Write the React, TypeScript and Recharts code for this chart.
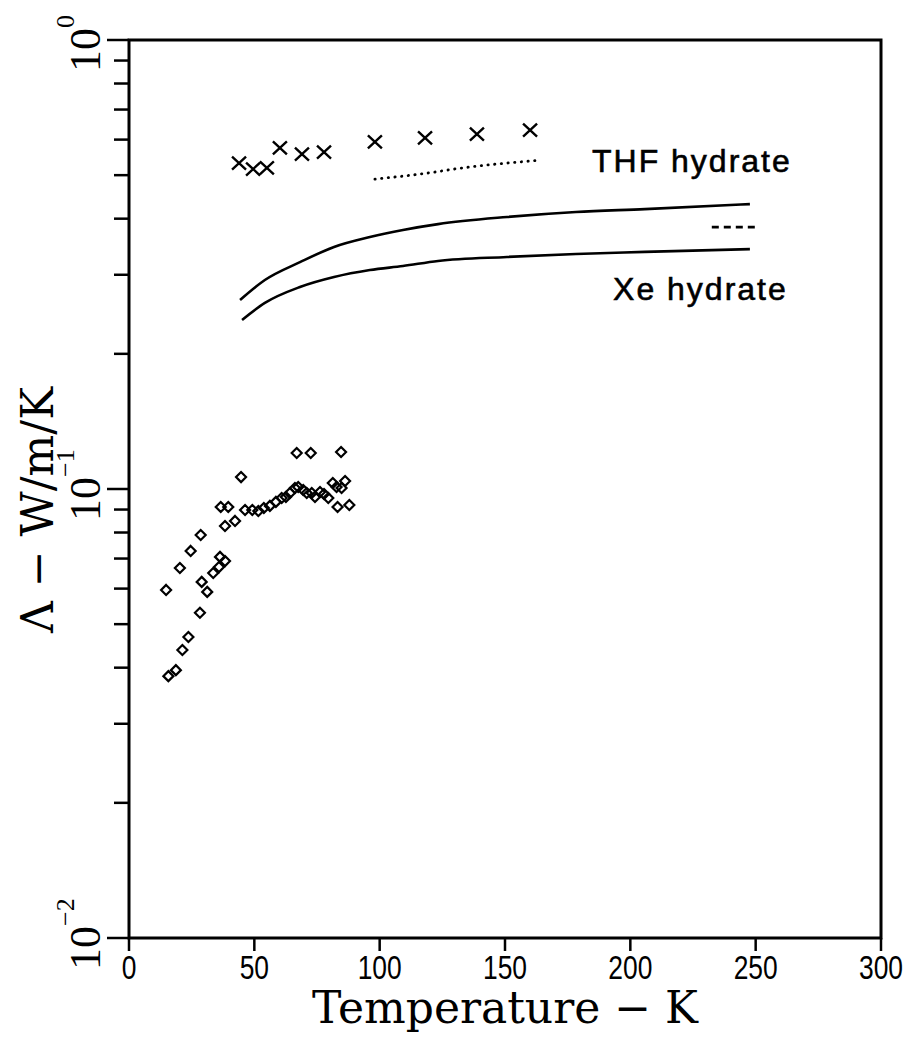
import {
  ComposedChart,
  XAxis,
  YAxis,
  Scatter,
  Line,
  ReferenceArea,
  ReferenceDot,
} from 'recharts';

// x axis: temperature (K)
const X_TICKS = [0, 50, 100, 150, 200, 250, 300];
// y axis: log decades with minor ticks
const Y_TICKS = [
  0.01, 0.02, 0.03, 0.04, 0.05, 0.06, 0.07, 0.08, 0.09,
  0.1, 0.2, 0.3, 0.4, 0.5, 0.6, 0.7, 0.8, 0.9, 1,
];

// diamonds (low temperature data)
const diamondT = [
  14.8, 15.7, 18.7, 20.3, 21.3, 23.7, 24.6, 28.3, 28.6, 29.0, 31.2, 33.6,
  35.9, 36.3, 38.3, 36.6, 39.6, 38.3, 42.3, 44.7, 46.3, 49.2, 51.6, 53.8,
  56.2, 58.6, 60.9, 62.6, 64.2, 66.2, 66.9, 67.5, 69.5, 70.9, 72.5, 72.9,
  74.2, 76.2, 77.8, 79.5, 81.3, 82.8, 83.2, 84.6, 84.8, 86.2, 87.9,
];
const diamondK = [
  0.0596, 0.0383, 0.0395, 0.0667, 0.0438, 0.0468, 0.0728, 0.053, 0.079,
  0.0621, 0.059, 0.065, 0.067, 0.0706, 0.0691, 0.0912, 0.0912, 0.0827,
  0.0849, 0.1063, 0.0898, 0.0898, 0.0893, 0.0907, 0.0917, 0.0936, 0.0955,
  0.096, 0.098, 0.1005, 0.1203, 0.101, 0.0995, 0.098, 0.1203, 0.098, 0.096,
  0.0985, 0.0975, 0.0955, 0.1031, 0.101, 0.0912, 0.1209, 0.1005, 0.1042,
  0.0921,
];

// crosses (THF hydrate)
const crossT = [43.9, 49.5, 55.0, 60.2, 69.0, 77.8, 98.1, 118.1, 138.8, 160.0];
const crossK = [0.532, 0.516, 0.519, 0.575, 0.557, 0.563, 0.593, 0.605, 0.617, 0.63];

// dotted THF line
const dotT = [98.1, 118.7, 132.0, 164.3];
const dotK = [0.49, 0.505, 0.518, 0.54];

// upper solid curve
const upperT = [44.3, 54.2, 68.2, 81.8, 96.1, 109.3, 123.3, 150.8, 178.3, 205.8, 247.7];
const upperK = [0.2636, 0.292, 0.32, 0.346, 0.364, 0.3775, 0.389, 0.4035, 0.414, 0.42, 0.431];

// lower solid curve (Xe hydrate)
const lowerT = [45.1, 54.2, 68.2, 81.8, 96.1, 109.3, 123.3, 150.8, 178.3, 205.8, 247.7];
const lowerK = [0.238, 0.2597, 0.2818, 0.2966, 0.3074, 0.3138, 0.322, 0.3287, 0.3338, 0.3373, 0.3422];

// short dashed segment
const dashT = [232.5, 250.9];
const dashK = [0.383, 0.383];

const zip = (t: number[], k: number[]) => t.map((v, i) => ({ t: v, k: k[i] }));

const serif = '"DejaVu Serif", "Liberation Serif", serif';

function XTick({ x, y, payload }: any) {
  return (
    <g>
      <line x1={x} x2={x} y1={y} y2={y + 13} stroke="#000" strokeWidth={2.5} />
      <text
        transform={`translate(${x},${y + 41}) scale(0.8,1)`}
        textAnchor="middle"
        fontFamily='"Liberation Sans", Arial, sans-serif'
        fontSize={33}
        fill="#000"
      >
        {payload.value}
      </text>
    </g>
  );
}

function YTick({ x, y, payload }: any) {
  const v = payload.value as number;
  const exp = Math.round(Math.log10(v));
  const major = Math.abs(v - Math.pow(10, exp)) < 1e-9;
  const len = major ? 22 : 15;
  return (
    <g>
      <line x1={x} x2={x - len} y1={y} y2={y} stroke="#000" strokeWidth={2.5} />
      {major && (
        <text
          transform={`translate(${x - 29},${y + 32}) rotate(-90)`}
          fontFamily='"Liberation Serif", serif'
          fill="#000"
        >
          <tspan fontSize={44}>10</tspan>
          <tspan fontSize={26} dy={-26}>
            {exp === 0 ? '0' : `−${-exp}`}
          </tspan>
        </text>
      )}
    </g>
  );
}

const YTitle = () => (
  <text
    transform="translate(53,510) rotate(-90)"
    textAnchor="middle"
    fontFamily={serif}
    fontSize={44}
    fill="#000"
  >
    Λ − W/m/K
  </text>
);

const Diamond = ({ cx, cy }: any) => (
  <path
    d={`M${cx},${cy - 5}L${cx + 5},${cy}L${cx},${cy + 5}L${cx - 5},${cy}Z`}
    fill="none"
    stroke="#000"
    strokeWidth={2.2}
  />
);

const Cross = ({ cx, cy }: any) => (
  <path
    d={`M${cx - 7},${cy - 6.5}L${cx + 7},${cy + 6.5}M${cx - 7},${cy + 6.5}L${cx + 7},${cy - 6.5}`}
    stroke="#000"
    strokeWidth={2.4}
    fill="none"
  />
);

const textShape = (label: string) => ({ cx, cy }: any) => (
  <text
    x={cx}
    y={cy + 11}
    fontFamily='"Liberation Sans", Arial, sans-serif'
    fontSize={32}
    letterSpacing={2}
    fill="#000"
    stroke="#000"
    strokeWidth={0.6}
  >
    {label}
  </text>
);

export default function App() {
  return (
    <div style={{ position: 'absolute', left: 0, top: 0, background: '#fff' }}>
      <ComposedChart
        width={922}
        height={1057}
        margin={{ top: 40, right: 41, left: 0, bottom: 0 }}
      >
        <XAxis
          dataKey="t"
          type="number"
          domain={[0, 300]}
          ticks={X_TICKS}
          axisLine={false}
          tickLine={false}
          tickSize={0}
          tickMargin={0}
          tick={<XTick />}
          height={119}
          interval={0}
          label={{
            value: 'Temperature − K',
            position: 'insideBottom',
            offset: 34,
            fontFamily: serif,
            fontSize: 44,
            fill: '#000',
          }}
        />
        <YAxis
          dataKey="k"
          type="number"
          scale="log"
          domain={[0.01, 1]}
          allowDataOverflow
          ticks={Y_TICKS}
          axisLine={false}
          tickLine={false}
          tickSize={0}
          tickMargin={0}
          tick={<YTick />}
          width={129}
          interval={0}
          label={{ content: <YTitle /> }}
        />
        <ReferenceArea
          x1={0}
          x2={300}
          y1={0.01}
          y2={1}
          fill="none"
          fillOpacity={0}
          stroke="#000"
          strokeWidth={3}
        />
        <Line
          data={zip(upperT, upperK)}
          dataKey="k"
          type="monotone"
          stroke="#000"
          strokeWidth={2.6}
          dot={false}
          isAnimationActive={false}
        />
        <Line
          data={zip(lowerT, lowerK)}
          dataKey="k"
          type="monotone"
          stroke="#000"
          strokeWidth={2.6}
          dot={false}
          isAnimationActive={false}
        />
        <Line
          data={zip(dotT, dotK)}
          dataKey="k"
          type="monotone"
          stroke="#000"
          strokeWidth={2.8}
          strokeDasharray="0.3 6.4"
          strokeLinecap="round"
          dot={false}
          isAnimationActive={false}
        />
        <Line
          data={zip(dashT, dashK)}
          dataKey="k"
          type="linear"
          stroke="#000"
          strokeWidth={2.6}
          strokeDasharray="7 5"
          dot={false}
          isAnimationActive={false}
        />
        <Scatter
          data={zip(diamondT, diamondK)}
          shape={<Diamond />}
          isAnimationActive={false}
        />
        <Scatter
          data={zip(crossT, crossK)}
          shape={<Cross />}
          isAnimationActive={false}
        />
        <ReferenceDot x={184.7} y={0.538} r={0} shape={textShape('THF  hydrate')} />
        <ReferenceDot x={193.1} y={0.279} r={0} shape={textShape('Xe hydrate')} />
      </ComposedChart>
    </div>
  );
}
